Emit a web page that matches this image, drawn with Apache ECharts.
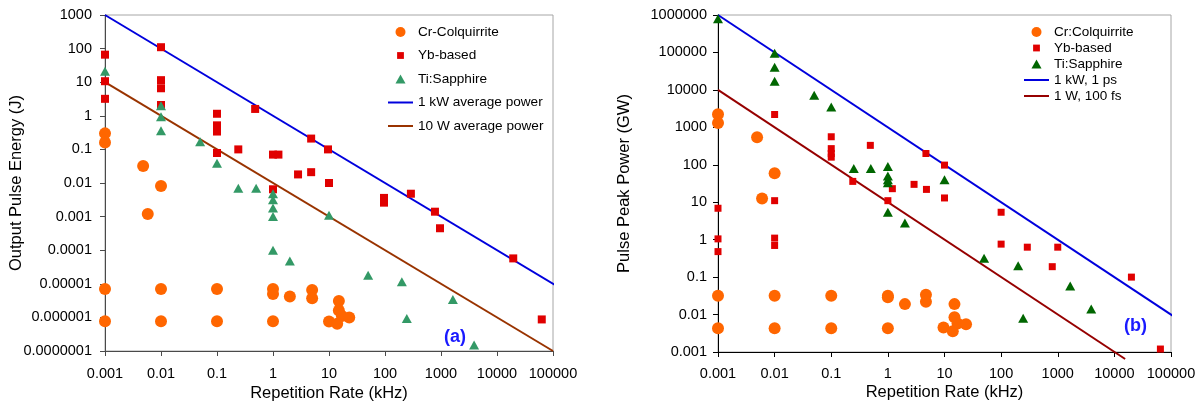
<!DOCTYPE html>
<html>
<head>
<meta charset="utf-8">
<script src="https://cdn.jsdelivr.net/npm/echarts@6/dist/echarts.min.js"></script>
<style>
  html, body { margin: 0; padding: 0; background: #fff; }
  #chart { width: 1202px; height: 407px; }
</style>
</head>
<body>
<div id="chart"></div>
<script>
// ---- Tick labels (one per decade) ----
const rateTickLabels = ['0.001', '0.01', '0.1', '1', '10', '100', '1000', '10000', '100000'];
const energyTickLabels = ['0.0000001', '0.000001', '0.00001', '0.0001', '0.001', '0.01', '0.1', '1', '10', '100', '1000'];
const peakTickLabels = ['0.001', '0.01', '0.1', '1', '10', '100', '1000', '10000', '100000', '1000000'];

// ---- (a) Output pulse energy [rate kHz, energy J] ----
const energyCrColquirrite = [
  [0.001, 0.3], [0.001, 0.16], [0.0048, 0.032], [0.01, 0.0082], [0.0058, 0.0012],
  [0.001, 7e-6], [0.01, 7e-6], [0.1, 7e-6], [1, 7e-6], [1, 5e-6], [2, 4.2e-6],
  [5, 6.5e-6], [5, 3.7e-6], [15, 3.1e-6], [15, 1.6e-6], [17, 1.1e-6], [23, 1e-6],
  [10, 7.5e-7], [14, 6.5e-7],
  [0.001, 7.7e-7], [0.01, 7.7e-7], [0.1, 7.7e-7], [1, 7.7e-7]
];
const energyYb = [
  [0.001, 66], [0.001, 10.7], [0.001, 3.2], [0.01, 110], [0.01, 11.5], [0.01, 6.6], [0.01, 2.1],
  [0.1, 1.15], [0.1, 0.52], [0.1, 0.34], [0.1, 0.078], [0.24, 0.1], [0.48, 1.6],
  [1, 0.07], [1.25, 0.07], [1, 0.0065], [2.8, 0.018], [4.8, 0.21], [4.8, 0.021],
  [9.6, 0.1], [10, 0.01], [96, 0.0036], [96, 0.0026], [290, 0.0048], [780, 0.0014],
  [960, 0.00045], [19500, 5.7e-5], [63000, 8.7e-7]
];
const energyTiSapphire = [
  [0.001, 21], [0.01, 2.0], [0.01, 0.93], [0.01, 0.36], [0.05, 0.17], [0.1, 0.039],
  [0.24, 0.007], [0.5, 0.007], [1, 0.0048], [1, 0.0032], [1, 0.0018], [1, 0.001],
  [1, 1e-4], [2, 4.8e-5], [10, 0.0011], [50, 1.8e-5], [200, 1.15e-5], [245, 9.3e-7],
  [1630, 3.4e-6], [3900, 1.5e-7]
];
const energyLine1kW = [[0.001, 1000], [150000, 0.0000067]];
const energyLine10W = [[0.001, 10], [100000, 0.0000001]];

// ---- (b) Pulse peak power [rate kHz, power GW] ----
const peakCrColquirrite = [
  [0.001, 2250], [0.001, 1300], [0.0049, 540], [0.01, 59], [0.006, 12.6],
  [0.001, 0.032], [0.01, 0.032], [0.1, 0.032], [1, 0.032], [1, 0.029], [2, 0.019],
  [4.7, 0.034], [4.7, 0.022], [15, 0.019], [15, 0.0085], [17, 0.0058], [24, 0.0055],
  [9.6, 0.0045], [14, 0.0036],
  [0.001, 0.0043], [0.01, 0.0043], [0.1, 0.0043], [1, 0.0043]
];
const peakYb = [
  [0.001, 6.9], [0.001, 1.05], [0.001, 0.48], [0.01, 2200], [0.01, 11], [0.01, 1.1], [0.01, 0.7],
  [0.1, 560], [0.1, 270], [0.1, 200], [0.1, 160], [0.24, 36], [0.49, 330],
  [1, 11], [1.2, 23], [2.9, 30], [4.7, 200], [4.8, 22], [10, 98], [10, 13],
  [100, 5.4], [100, 0.76], [290, 0.63], [1000, 0.63], [800, 0.19], [20000, 0.1], [65000, 0.0012]
];
const peakTiSapphire = [
  [0.001, 800000], [0.01, 95000], [0.01, 40000], [0.01, 17000], [0.05, 7200], [0.1, 3500],
  [0.25, 80], [0.5, 80], [1, 90], [1, 50], [1, 40], [1, 33], [1, 5.4], [2, 2.8],
  [10, 40], [50, 0.32], [200, 0.2], [245, 0.008], [1660, 0.058], [3900, 0.014]
];
const peakLine1kW1ps = [[0.001, 1000000], [125000, 0.008]];
const peakLine1W100fs = [[0.001, 10000], [15500, 0.00065]];

const FONT = '"Liberation Sans", Arial, Helvetica, sans-serif';

function decadeFormatter(labels, minExp) {
  return function (v) {
    const i = Math.round(Math.log10(v)) - minExp;
    return labels[i] !== undefined ? labels[i] : '';
  };
}

function logAxis(axisColor, base) {
  return Object.assign({
    type: 'log',
    logBase: 10,
    interval: 1,
    nameLocation: 'middle',
    nameMoveOverlap: false,
    nameTextStyle: { fontFamily: FONT, fontSize: 16.5, color: '#000' },
    axisLine: { show: true, onZero: false, lineStyle: { color: axisColor, width: 1 } },
    axisTick: { show: true, inside: false, length: 5, lineStyle: { color: axisColor } },
    minorTick: { show: false },
    splitLine: { show: false },
    minorSplitLine: { show: false }
  }, base);
}

function tickLabel(labels, minExp, margin) {
  return {
    fontFamily: FONT, fontSize: 14.5, color: '#000', margin: margin,
    formatter: decadeFormatter(labels, minExp),
    showMinLabel: true, showMaxLabel: true, hideOverlap: false, interval: 0
  };
}

// Legend icons: the M moves set the icon's box so the shape keeps its size inside it
const iconSquare = 'path://M0,0M10,10M1.6,1.6L8.4,1.6L8.4,8.4L1.6,8.4Z';
const iconTriangle = 'path://M0,0M10,10M5,0.5L10,9.5L0,9.5Z';
const iconLine = 'path://M0,0M25,10M0,4L25,4L25,6L0,6Z';

const option = {
  animation: false,
  backgroundColor: '#fff',
  textStyle: { fontFamily: FONT },
  grid: [
    { left: 105, top: 15, width: 448, height: 340, show: true, borderColor: '#a6a6a6', borderWidth: 1, backgroundColor: '#fff' },
    { left: 718, top: 15, width: 453, height: 337, show: true, borderColor: '#a6a6a6', borderWidth: 1, backgroundColor: '#fff' }
  ],
  xAxis: [
    logAxis('#4a4a4a', {
      gridIndex: 0, min: 0.001, max: 100000,
      name: 'Repetition Rate (kHz)', nameGap: 34,
      axisLabel: tickLabel(rateTickLabels, -3, 15)
    }),
    logAxis('#000', {
      gridIndex: 1, min: 0.001, max: 100000,
      name: 'Repetition Rate (kHz)', nameGap: 32,
      axisLabel: tickLabel(rateTickLabels, -3, 14)
    })
  ],
  yAxis: [
    logAxis('#4a4a4a', {
      gridIndex: 0, min: 0.0000001, max: 1000,
      name: 'Output Pulse Energy (J)', nameGap: 80, nameRotate: 90,
      axisLabel: tickLabel(energyTickLabels, -7, 13)
    }),
    logAxis('#000', {
      gridIndex: 1, min: 0.001, max: 1000000,
      name: 'Pulse Peak Power (GW)', nameGap: 85, nameRotate: 90,
      axisLabel: tickLabel(peakTickLabels, -3, 11)
    })
  ],
  legend: [
    {
      orient: 'vertical', left: 388, top: 25, padding: 0, itemWidth: 25, itemHeight: 10, itemGap: 9.5,
      textStyle: { fontFamily: FONT, fontSize: 13.6, color: '#000', lineHeight: 14 },
      selectedMode: false,
      data: [
        { name: 'Cr-Colquirrite', icon: 'circle' },
        { name: 'Yb-based', icon: iconSquare },
        { name: 'Ti:Sapphire', icon: iconTriangle, itemStyle: { color: '#339966' } },
        { name: '1 kW average power', icon: iconLine },
        { name: '10 W average power', icon: iconLine }
      ]
    },
    {
      orient: 'vertical', left: 1024, top: 25, padding: 0, itemWidth: 25, itemHeight: 10, itemGap: 2,
      textStyle: { fontFamily: FONT, fontSize: 13.5, color: '#000', lineHeight: 14 },
      selectedMode: false,
      data: [
        { name: 'Cr:Colquirrite', icon: 'circle' },
        { name: 'Yb-based', icon: iconSquare },
        { name: 'Ti:Sapphire', icon: iconTriangle, itemStyle: { color: '#006600' } },
        { name: '1 kW, 1 ps', icon: iconLine },
        { name: '1 W, 100 fs', icon: iconLine }
      ]
    }
  ],
  graphic: [
    { type: 'text', left: 444, top: 328, style: { text: '(a)', fill: '#1a1aff', font: 'bold 18px ' + FONT } },
    { type: 'text', left: 1124, top: 317, style: { text: '(b)', fill: '#1a1aff', font: 'bold 18px ' + FONT } }
  ],
  series: [
    // (a) reference lines
    { name: '1 kW average power', type: 'line', xAxisIndex: 0, yAxisIndex: 0, data: energyLine1kW,
      symbol: 'none', clip: false, z: 1, lineStyle: { color: '#0000dd', width: 2 }, itemStyle: { color: '#0000dd' } },
    { name: '10 W average power', type: 'line', xAxisIndex: 0, yAxisIndex: 0, data: energyLine10W,
      symbol: 'none', clip: false, z: 1, lineStyle: { color: '#993300', width: 2 }, itemStyle: { color: '#993300' } },
    // (a) measured points
    { name: 'Cr-Colquirrite', type: 'scatter', xAxisIndex: 0, yAxisIndex: 0, data: energyCrColquirrite,
      symbol: 'circle', symbolSize: 12, z: 2, itemStyle: { color: '#ff6600', opacity: 1 } },
    { name: 'Yb-based', type: 'scatter', xAxisIndex: 0, yAxisIndex: 0, data: energyYb,
      symbol: 'rect', symbolSize: 8, z: 3, itemStyle: { color: '#e00000', opacity: 1 } },
    { name: 'Ti:Sapphire', type: 'scatter', xAxisIndex: 0, yAxisIndex: 0, data: energyTiSapphire,
      symbol: 'triangle', symbolSize: [10, 9], z: 4, itemStyle: { color: '#339966', opacity: 1 } },

    // (b) reference lines
    { name: '1 kW, 1 ps', type: 'line', xAxisIndex: 1, yAxisIndex: 1, data: peakLine1kW1ps,
      symbol: 'none', clip: false, z: 1, lineStyle: { color: '#0000dd', width: 2 }, itemStyle: { color: '#0000dd' } },
    { name: '1 W, 100 fs', type: 'line', xAxisIndex: 1, yAxisIndex: 1, data: peakLine1W100fs,
      symbol: 'none', clip: false, z: 1, lineStyle: { color: '#960000', width: 2 }, itemStyle: { color: '#960000' } },
    // (b) measured points
    { name: 'Cr:Colquirrite', type: 'scatter', xAxisIndex: 1, yAxisIndex: 1, data: peakCrColquirrite,
      symbol: 'circle', symbolSize: 12, z: 2, itemStyle: { color: '#ff6600', opacity: 1 } },
    { name: 'Yb-based', type: 'scatter', xAxisIndex: 1, yAxisIndex: 1, data: peakYb,
      symbol: 'rect', symbolSize: 7, z: 3, itemStyle: { color: '#e00000', opacity: 1 } },
    { name: 'Ti:Sapphire', type: 'scatter', xAxisIndex: 1, yAxisIndex: 1, data: peakTiSapphire,
      symbol: 'triangle', symbolSize: [10, 9], z: 4, itemStyle: { color: '#006600', opacity: 1 } }
  ]
};

const chart = echarts.init(document.getElementById('chart'), null, { renderer: 'canvas' });
chart.setOption(option);
</script>
</body>
</html>
